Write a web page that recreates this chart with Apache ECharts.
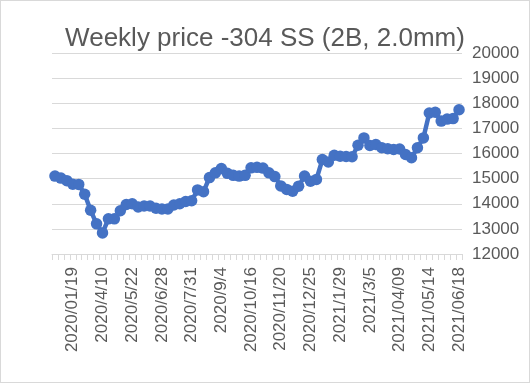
<!DOCTYPE html>
<html>
<head>
<meta charset="utf-8">
<script src="https://cdn.jsdelivr.net/npm/echarts@6/dist/echarts.min.js"></script>
<style>
html,body{margin:0;padding:0;background:#fff;}
#c{width:530px;height:383px;box-sizing:border-box;border:1px solid #d9d9d9;}
</style>
</head>
<body>
<div id="c"></div>
<script>
const titleText = 'Weekly price -304 SS (2B, 2.0mm)';
const categories = [
 '2019/12/29','2020/01/05','2020/01/12','2020/01/19','2020/2/28','2020/3/6','2020/3/13','2020/3/27','2020/4/10','2020/4/17',
 '2020/4/24','2020/5/8','2020/5/15','2020/5/22','2020/5/29','2020/6/5','2020/6/12','2020/6/19','2020/6/28','2020/7/3',
 '2020/7/10','2020/7/17','2020/7/24','2020/7/31','2020/8/7','2020/8/14','2020/8/21','2020/8/28','2020/9/4','2020/9/11',
 '2020/9/18','2020/9/25','2020/10/9','2020/10/16','2020/10/23','2020/10/30','2020/11/6','2020/11/13','2020/11/20','2020/11/27',
 '2020/12/4','2020/12/11','2020/12/18','2020/12/25','2021/1/1','2021/1/8','2021/1/15','2021/1/22','2021/1/29','2021/2/5',
 '2021/2/10','2021/2/19','2021/2/26','2021/3/5','2021/03/12','2021/03/19','2021/03/26','2021/04/02','2021/04/09','2021/04/16',
 '2021/04/23','2021/04/30','2021/05/07','2021/05/14','2021/05/21','2021/05/28','2021/06/04','2021/06/11','2021/06/18'
];
const prices = [
 15100,15020,14920,14780,14770,14380,13740,13200,12840,13400,
 13400,13720,13970,14000,13870,13910,13910,13820,13790,13790,
 13950,14000,14090,14120,14550,14480,15040,15230,15400,15210,
 15130,15100,15130,15430,15450,15420,15230,15080,14710,14570,
 14500,14700,15100,14900,14970,15760,15660,15930,15890,15880,
 15870,16330,16620,16320,16360,16230,16190,16160,16180,15960,
 15830,16230,16620,17610,17640,17290,17370,17390,17740
];
const yMin = 12000, yMax = 20000, yStep = 1000;

const chart = echarts.init(document.getElementById('c'), null, {renderer:'canvas'});
chart.setOption({
  animation:false,
  backgroundColor:'#fff',
  title:{
    text:titleText, left:'center', top:20,
    textStyle:{fontFamily:'Liberation Sans', fontSize:26, fontWeight:'normal', color:'#595959'}
  },
  grid:{left:51, right:67, top:52, bottom:128},
  xAxis:{
    type:'category', data:categories, boundaryGap:true,
    axisLine:{lineStyle:{color:'#d9d9d9', width:1}},
    axisTick:{show:true, interval:0, length:6, lineStyle:{color:'#d9d9d9'}},
    axisLabel:{
      interval:function(i){return i % 5 === 3;},
      rotate:90, margin:13,
      fontFamily:'Liberation Sans', fontSize:17, color:'#595959'
    },
    splitLine:{show:false}
  },
  yAxis:{
    type:'value', position:'right', min:yMin, max:yMax, interval:yStep,
    axisLine:{show:false}, axisTick:{show:false},
    axisLabel:{margin:10, fontFamily:'Liberation Sans', fontSize:17, color:'#595959',
      formatter:function(v){return String(v);}},
    splitLine:{lineStyle:{color:'#d9d9d9', width:1}}
  },
  series:[{
    type:'line', data:prices,
    symbol:'circle', symbolSize:11.5, showAllSymbol:true,
    lineStyle:{color:'#4472C4', width:4.5},
    itemStyle:{color:'#4472C4'}
  }]
});
</script>
</body>
</html>
